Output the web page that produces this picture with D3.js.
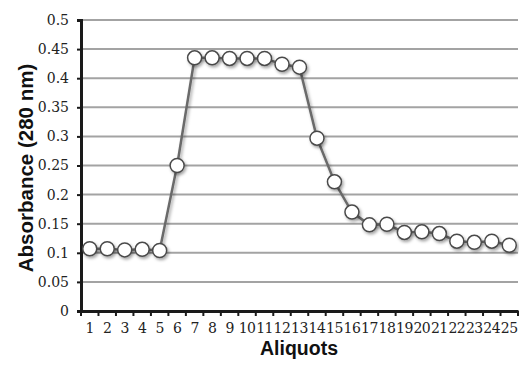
<!DOCTYPE html>
<html>
<head>
<meta charset="utf-8">
<script src="https://cdn.jsdelivr.net/npm/d3@7"></script>
<style>
  body { margin: 0; background: #fff; }
</style>
</head>
<body>
<div id="chart"></div>
<script>
var aliquots = d3.range(1, 26).map(String);
var absorbance = [0.107, 0.107, 0.105, 0.106, 0.104, 0.25, 0.435, 0.435, 0.434, 0.434, 0.434, 0.424, 0.419,
                  0.297, 0.222, 0.17, 0.148, 0.149, 0.135, 0.136, 0.133, 0.12, 0.118, 0.12, 0.113];
var yTicks = [0, 0.05, 0.1, 0.15, 0.2, 0.25, 0.3, 0.35, 0.4, 0.45, 0.5];

var W = 519, H = 367;
var margin = {top: 20, right: 1, bottom: 56, left: 81};

var svg = d3.select("#chart")
    .append("svg")
    .attr("width", W)
    .attr("height", H);

var defs = svg.append("defs");
var f = defs.append("filter").attr("id", "shadow")
    .attr("x", "-50%").attr("y", "-50%").attr("width", "200%").attr("height", "200%");
f.append("feDropShadow").attr("dx", 1.5).attr("dy", 2).attr("stdDeviation", 1.5)
    .attr("flood-color", "#000").attr("flood-opacity", 0.35);

var x = d3.scaleBand().domain(aliquots).range([margin.left, W - margin.right]);
var y = d3.scaleLinear().domain([0, 0.5]).range([H - margin.bottom, margin.top]);

// gridlines
svg.append("g").selectAll("line")
    .data(yTicks.slice(1))
    .enter()
  .append("line")
    .attr("x1", margin.left).attr("x2", W - margin.right)
    .attr("y1", function(d){return y(d);})
    .attr("y2", function(d){return y(d);})
    .style("stroke", "#a3a3a3")
    .style("stroke-width", 2);

// axes
var yAxis = svg.append("g")
    .attr("transform", "translate(" + margin.left + ",0)")
    .call(d3.axisLeft(y).tickValues(yTicks).tickFormat(d3.format("")).tickSize(4).tickPadding(8));
var xAxis = svg.append("g")
    .attr("transform", "translate(0," + (H - margin.bottom) + ")")
    .call(d3.axisBottom(x).tickSize(0).tickPadding(12));
// category boundary ticks
xAxis.selectAll("line.bound")
    .data(d3.range(0, 26))
    .enter()
  .append("line")
    .attr("class", "bound")
    .attr("x1", function(i){return margin.left + i * x.step();})
    .attr("x2", function(i){return margin.left + i * x.step();})
    .attr("y1", 0).attr("y2", 5)
    .style("stroke", "#1a1a1a").style("stroke-width", 2);

[yAxis, xAxis].forEach(function(g){
  g.attr("font-family", "DejaVu Serif").attr("font-size", 14);
  g.select(".domain").style("stroke", "#1a1a1a").style("stroke-width", 3);
  g.selectAll(".tick line").style("stroke", "#1a1a1a").style("stroke-width", 2);
  g.selectAll(".tick text")
    .style("font-family", "'DejaVu Serif', serif")
    .style("font-size", "14px")
    .style("fill", "#222");
});
xAxis.selectAll(".tick text").style("letter-spacing", "-0.5px");

// line + markers
var line = d3.line()
    .x(function(d, i){return x(aliquots[i]) + x.bandwidth() / 2;})
    .y(function(d){return y(d);});

svg.append("path")
    .datum(absorbance)
    .attr("d", line)
    .attr("fill", "none")
    .style("stroke", "#6a6a6a")
    .style("stroke-width", 2.5)
    .attr("filter", "url(#shadow)");

svg.append("g").selectAll("circle")
    .data(absorbance)
    .enter()
  .append("circle")
    .attr("cx", function(d, i){return x(aliquots[i]) + x.bandwidth() / 2;})
    .attr("cy", function(d){return y(d);})
    .attr("r", 7)
    .style("fill", "#fff")
    .style("stroke", "#4a4a4a")
    .style("stroke-width", 1.5)
    .attr("filter", "url(#shadow)");

// titles
svg.append("text")
    .attr("transform", "translate(33,168) rotate(-90)")
    .attr("text-anchor", "middle")
    .style("font-family", "'Liberation Sans', Arial, sans-serif")
    .style("font-weight", "bold")
    .style("font-size", "20.5px")
    .style("fill", "#111")
    .text("Absorbance (280 nm)");

svg.append("text")
    .attr("x", 299).attr("y", 355)
    .attr("text-anchor", "middle")
    .style("font-family", "'Liberation Sans', Arial, sans-serif")
    .style("font-weight", "bold")
    .style("font-size", "19.5px")
    .style("fill", "#111")
    .text("Aliquots");
</script>
</body>
</html>
